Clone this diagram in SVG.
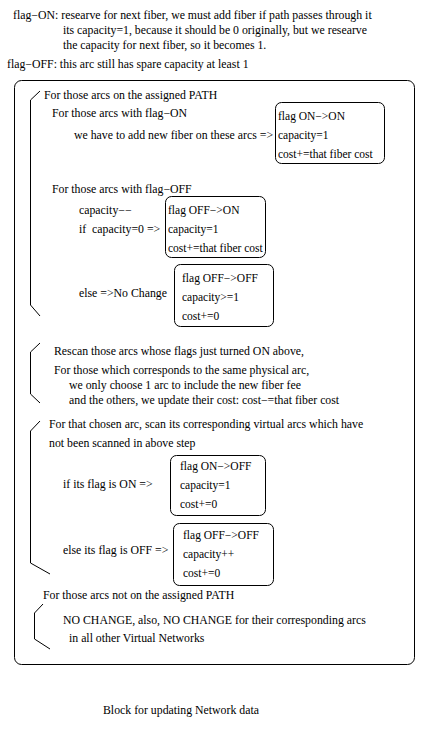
<svg xmlns="http://www.w3.org/2000/svg" width="431" height="731" viewBox="0 0 431 731">
<style>
text{font-family:"Liberation Serif","Times New Roman",serif;font-size:11.8px;fill:#000;white-space:pre}
.bt{font-size:11.5px}
.box{fill:none;stroke:#000;stroke-width:1}
.br{fill:none;stroke:#000;stroke-width:1}
</style>
<rect x="0" y="0" width="431" height="731" fill="#fff"/>
<g id="legend">
<text x="13" y="19">flag−ON: researve for next fiber, we must add fiber if path passes through it</text>
<text x="63" y="34">its capacity=1, because it should be 0 originally, but we researve</text>
<text x="63" y="49">the capacity for next fiber, so it becomes 1.</text>
<text x="7" y="68">flag−OFF: this arc still has spare capacity at least 1</text>
</g>
<g id="outer">
<rect class="box" x="14.5" y="80.5" width="400" height="584" rx="7"/>
<text x="44" y="99">For those arcs on the assigned PATH</text>
<text x="52" y="117">For those arcs with flag−ON</text>
<text x="74" y="139">we have to add new fiber on these arcs =&gt;</text>
<text x="52" y="193">For those arcs with flag−OFF</text>
<text x="79" y="214">capacity−−</text>
<text x="79" y="233">if  capacity=0 =&gt;</text>
<text x="79" y="297">else =&gt;No Change</text>
<text x="54" y="355">Rescan those arcs whose flags just turned ON above,</text>
<text x="54" y="374">For those which corresponds to the same physical arc,</text>
<text x="69" y="389">we only choose 1 arc to include the new fiber fee</text>
<text x="69" y="404">and the others, we update their cost: cost−=that fiber cost</text>
<text x="49" y="428">For that chosen arc, scan its corresponding virtual arcs which have</text>
<text x="49" y="447">not been scanned in above step</text>
<text x="63" y="488">if its flag is ON =&gt;</text>
<text x="63" y="554">else its flag is OFF =&gt;</text>
<text x="43" y="599">For those arcs not on the assigned PATH</text>
<text x="63" y="624">NO CHANGE, also, NO CHANGE for their corresponding arcs</text>
<text x="69" y="642">in all other Virtual Networks</text>
</g>
<g id="box-on-on">
<rect class="box" x="275.5" y="102.5" width="109" height="61" rx="6"/>
<text class="bt" x="278" y="120">flag ON−&gt;ON</text>
<text class="bt" x="278" y="139">capacity=1</text>
<text class="bt" x="278" y="158">cost+=that fiber cost</text>
</g>
<g id="box-off-on">
<rect class="box" x="165.5" y="196.5" width="100" height="61" rx="6"/>
<text class="bt" x="168" y="214">flag OFF−&gt;ON</text>
<text class="bt" x="168" y="233">capacity=1</text>
<text class="bt" x="168" y="252">cost+=that fiber cost</text>
</g>
<g id="box-off-off-1">
<rect class="box" x="174.5" y="264.5" width="99" height="62" rx="6"/>
<text class="bt" x="182" y="282">flag OFF−&gt;OFF</text>
<text class="bt" x="182" y="301">capacity&gt;=1</text>
<text class="bt" x="182" y="320">cost+=0</text>
</g>
<g id="box-on-off">
<rect class="box" x="170.5" y="455.5" width="95" height="60" rx="6"/>
<text class="bt" x="180" y="470">flag ON−&gt;OFF</text>
<text class="bt" x="180" y="489">capacity=1</text>
<text class="bt" x="180" y="508">cost+=0</text>
</g>
<g id="box-off-off-2">
<rect class="box" x="173.5" y="523.5" width="100" height="62" rx="6"/>
<text class="bt" x="183" y="539">flag OFF−&gt;OFF</text>
<text class="bt" x="183" y="558">capacity++</text>
<text class="bt" x="183" y="577">cost+=0</text>
</g>
<g id="title">
<text x="103" y="714">Block for updating Network data</text>
</g>
<g id="connectors">
<path class="br" d="M40,91 L30.5,100 L30.5,305 L40,316"/>
<path class="br" d="M40,343 L30.5,352 L30.5,394 L40,403"/>
<path class="br" d="M40,421 L30.5,431 L30.5,563 L50,574"/>
<path class="br" d="M43,604 L34.5,613 L34.5,639 L50,649"/>
</g>
</svg>
